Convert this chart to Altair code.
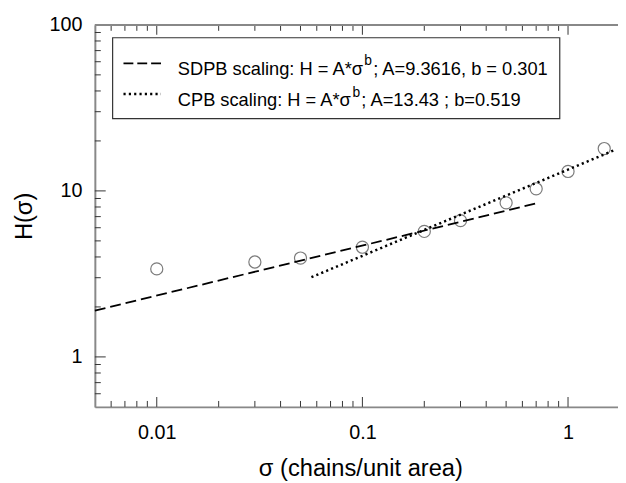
import altair as alt
import pandas as pd

# ---- data ----
sigma = [0.01, 0.03, 0.05, 0.1, 0.2, 0.3, 0.5, 0.7, 1.0, 1.5]
H = [3.39, 3.73, 3.94, 4.58, 5.70, 6.62, 8.48, 10.3, 13.1, 18.0]

sdpb_x = [0.005, 0.7]
sdpb_y = [1.90, 8.41]
cpb_x = [0.0565, 1.7]
cpb_y = [3.02, 17.7]

x_major = [0.01, 0.1, 1]
x_minor = [0.006, 0.007, 0.008, 0.009, 0.02, 0.03, 0.04, 0.05, 0.06, 0.07,
           0.08, 0.09, 0.2, 0.3, 0.4, 0.5, 0.6, 0.7, 0.8, 0.9]
y_major = [1, 10, 100]
y_minor = [0.6, 0.7, 0.8, 0.9, 2, 3, 4, 5, 6, 7, 8, 9, 20, 30, 40, 50, 60, 70, 80, 90]

legend_row1 = ["SDPB scaling: H = A*σ", "b", "; A=9.3616, b = 0.301"]
legend_row2 = ["CPB scaling: H = A*σ", "b", "; A=13.43 ; b=0.519"]

FONT = "Liberation Sans"
W, Hh = 530, 387
XDOM = [0.005, 1.75]
YDOM = [0.5, 100]

xs = alt.Scale(type="log", domain=XDOM, nice=False)
ys = alt.Scale(type="log", domain=YDOM, nice=False)

pts = pd.DataFrame({"sigma": sigma, "H": H})
sdpb = pd.DataFrame({"sigma": sdpb_x, "H": sdpb_y})
cpb = pd.DataFrame({"sigma": cpb_x, "H": cpb_y})

xaxis = alt.Axis(values=x_major, format=".2~f", ticks=False, tickSize=0, grid=False,
                 domainColor="#888888", domainWidth=2, labelFont=FONT, labelFontSize=20,
                 labelColor="#000000", labelPadding=16,
                 title="σ (chains/unit area)", titleFont=FONT, titleFontSize=24,
                 titleFontWeight="normal", titleColor="#000000",
                 titleX=269, titleY=70, titleBaseline="alphabetic", titleAnchor="middle")
yaxis = alt.Axis(values=y_major, format="d", ticks=False, tickSize=0, grid=False,
                 domainColor="#888888", domainWidth=2, labelFont=FONT, labelFontSize=20,
                 labelColor="#000000", labelPadding=13,
                 title="H(σ)", titleFont=FONT, titleFontSize=24,
                 titleFontWeight="normal", titleColor="#000000",
                 titleX=-64, titleY=193.5, titleBaseline="alphabetic", titleAngle=-90,
                 titleAnchor="middle")

base_pts = alt.Chart(pts).mark_point(shape="circle", filled=False, size=150,
                                     stroke="#444444", strokeWidth=1.2).encode(
    x=alt.X("sigma:Q", scale=xs, axis=xaxis),
    y=alt.Y("H:Q", scale=ys, axis=yaxis),
)

line_sdpb = alt.Chart(sdpb).mark_line(color="black", strokeWidth=1.8,
                                      strokeDash=[11, 5]).encode(
    x=alt.X("sigma:Q", scale=xs), y=alt.Y("H:Q", scale=ys))
line_cpb = alt.Chart(cpb).mark_line(color="black", strokeWidth=2.5,
                                    strokeDash=[2.2, 3.2]).encode(
    x=alt.X("sigma:Q", scale=xs), y=alt.Y("H:Q", scale=ys))

# inward ticks
def xticks(vals, length, top):
    df = pd.DataFrame({"v": vals})
    if top:
        enc = dict(y=alt.value(0), y2=alt.value(length))
    else:
        enc = dict(y=alt.value(Hh), y2=alt.value(Hh - length))
    return alt.Chart(df).mark_rule(color="#333333", strokeWidth=1).encode(
        x=alt.X("v:Q", scale=xs), **enc)

def yticks(vals, length):
    df = pd.DataFrame({"v": vals})
    return alt.Chart(df).mark_rule(color="#333333", strokeWidth=1).encode(
        y=alt.Y("v:Q", scale=ys), x=alt.value(0), x2=alt.value(length))

tick_layers = [
    xticks(x_major, 10, False), xticks(x_minor, 6, False),
    xticks(x_major, 10, True), xticks(x_minor, 6, True),
    yticks(y_major, 11), yticks(y_minor, 6),
]

top_line = alt.Chart(pd.DataFrame({"a": [0]})).mark_rule(
    color="#888888", strokeWidth=2).encode(x=alt.value(0), x2=alt.value(W), y=alt.value(0))

# legend
one = pd.DataFrame({"a": [0]})
leg_box = alt.Chart(one).mark_rect(fill="white", stroke="#333333", strokeWidth=1.2).encode(
    x=alt.value(18), x2=alt.value(471), y=alt.value(13), y2=alt.value(95))
leg_dash = alt.Chart(one).mark_rule(color="black", strokeWidth=1.8, strokeDash=[10, 4]).encode(
    x=alt.value(29), x2=alt.value(67), y=alt.value(39))
leg_dot = alt.Chart(one).mark_rule(color="black", strokeWidth=2.5, strokeDash=[2.2, 3.2]).encode(
    x=alt.value(29), x2=alt.value(67), y=alt.value(70))

def ltext(txt, x, y, size):
    return alt.Chart(pd.DataFrame({"t": [txt]})).mark_text(
        font=FONT, fontSize=size, align="left", baseline="alphabetic", color="black").encode(
        text="t:N", x=alt.value(x), y=alt.value(y))

leg_texts = [
    ltext(legend_row1[0], 84, 50.5, 18.5), ltext(legend_row1[1], 273, 41, 14),
    ltext(legend_row1[2], 282, 50.5, 18.5),
    ltext(legend_row2[0], 84, 82, 18.5), ltext(legend_row2[1], 261, 73, 14),
    ltext(legend_row2[2], 270, 82, 18.5),
]

chart = alt.layer(
    base_pts, line_sdpb, line_cpb, *tick_layers, top_line,
    leg_box, leg_dash, leg_dot, *leg_texts,
).properties(
    width=W, height=Hh,
    autosize=alt.AutoSizeParams(type="none"),
    padding={"left": 88, "top": 14, "right": 0, "bottom": 74},
).configure_view(stroke=None).configure(background="white")

chart.save("out.html", embed_options={"renderer": "svg", "actions": False})
